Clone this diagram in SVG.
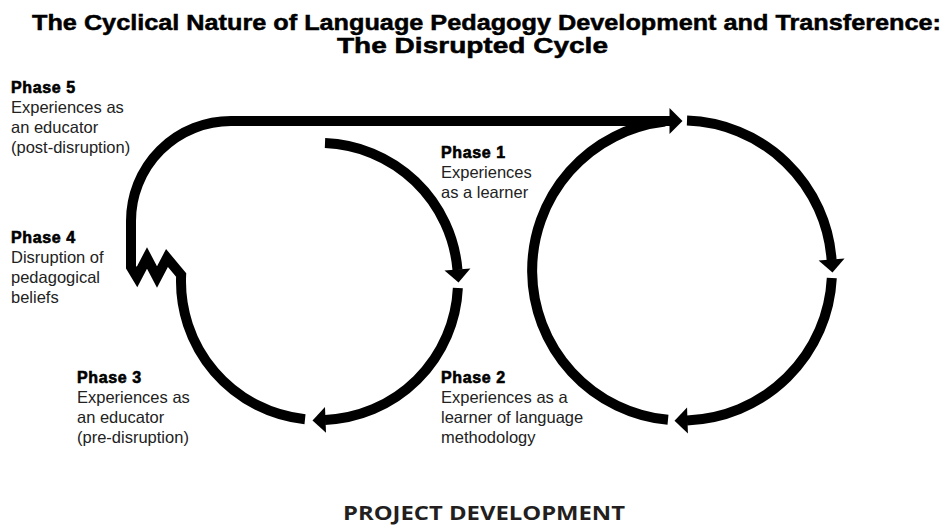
<svg xmlns="http://www.w3.org/2000/svg" width="948" height="526" viewBox="0 0 948 526">
<style>
.title{font-family:"Liberation Sans",Arial,sans-serif;font-weight:bold;font-size:22.5px;fill:#000;stroke:#000;stroke-width:0.5}
.head{font-family:"Liberation Sans",Arial,sans-serif;font-weight:bold;font-size:16px;fill:#000;stroke:#000;stroke-width:0.6;letter-spacing:0.6px}
.body{font-family:"Liberation Sans",Arial,sans-serif;font-size:16.5px;fill:#222}
.foot{font-family:"Open Sans","Liberation Sans",sans-serif;font-weight:bold;font-size:20px;fill:#231f20}
.line{fill:none;stroke:#000;stroke-width:10}
</style>
<defs>
<marker id="ah" markerUnits="userSpaceOnUse" viewBox="0 0 14 26" refX="0.5" refY="13" markerWidth="14" markerHeight="26" orient="auto" overflow="visible">
<path d="M0,0 L13,13 L0,26 Z" fill="#000"/>
</marker>
</defs>
<rect width="948" height="526" fill="#fff"/>
<g id="title">
<text class="title" x="32" y="30" textLength="909" lengthAdjust="spacingAndGlyphs">The Cyclical Nature of  Language Pedagogy Development and Transference:</text>
<text class="title" x="337" y="53" textLength="271" lengthAdjust="spacingAndGlyphs">The Disrupted Cycle</text>
</g>
<g id="connectors">
<path class="line" d="M325,143.1 A138.5,138.5 0 0 1 457.5,270" marker-end="url(#ah)"/>
<path class="line" d="M457.85,288 A138.5,138.5 0 0 1 325,419.9" marker-end="url(#ah)"/>
<path class="line" stroke-linejoin="miter" stroke-miterlimit="10" d="M305,419.2 A138.5,138.5 0 0 1 181.15,275 L167,258 L157,277 L147,258 L137,277 L131,267 L131,221 A100,100 0 0 1 231,121 L670,121" marker-end="url(#ah)"/>
<path class="line" d="M687,120.6 A150,150 0 0 1 831.6,260" marker-end="url(#ah)"/>
<path class="line" d="M831.8,278 A150,150 0 0 1 687,420.4" marker-end="url(#ah)"/>
<path class="line" d="M668,419.85 A150,150 0 0 1 665,121.5"/>
</g>
<g id="phase5">
<text class="head" x="11" y="93">Phase 5</text>
<text class="body" x="11" y="113">Experiences as</text>
<text class="body" x="11" y="133">an educator</text>
<text class="body" x="11" y="153">(post-disruption)</text>
</g>
<g id="phase4">
<text class="head" x="11" y="243">Phase 4</text>
<text class="body" x="11" y="263">Disruption of</text>
<text class="body" x="11" y="283">pedagogical</text>
<text class="body" x="11" y="303">beliefs</text>
</g>
<g id="phase3">
<text class="head" x="77" y="383">Phase 3</text>
<text class="body" x="77" y="403">Experiences as</text>
<text class="body" x="77" y="423">an educator</text>
<text class="body" x="77" y="443">(pre-disruption)</text>
</g>
<g id="phase2">
<text class="head" x="441" y="383">Phase 2</text>
<text class="body" x="441" y="403">Experiences as a</text>
<text class="body" x="441" y="423">learner of language</text>
<text class="body" x="441" y="443">methodology</text>
</g>
<g id="phase1">
<text class="head" x="441" y="158">Phase 1</text>
<text class="body" x="441" y="178">Experiences</text>
<text class="body" x="441" y="198">as a learner</text>
</g>
<g id="footer">
<text class="foot" x="343" y="520" textLength="282" lengthAdjust="spacingAndGlyphs">PROJECT DEVELOPMENT</text>
</g>
</svg>
